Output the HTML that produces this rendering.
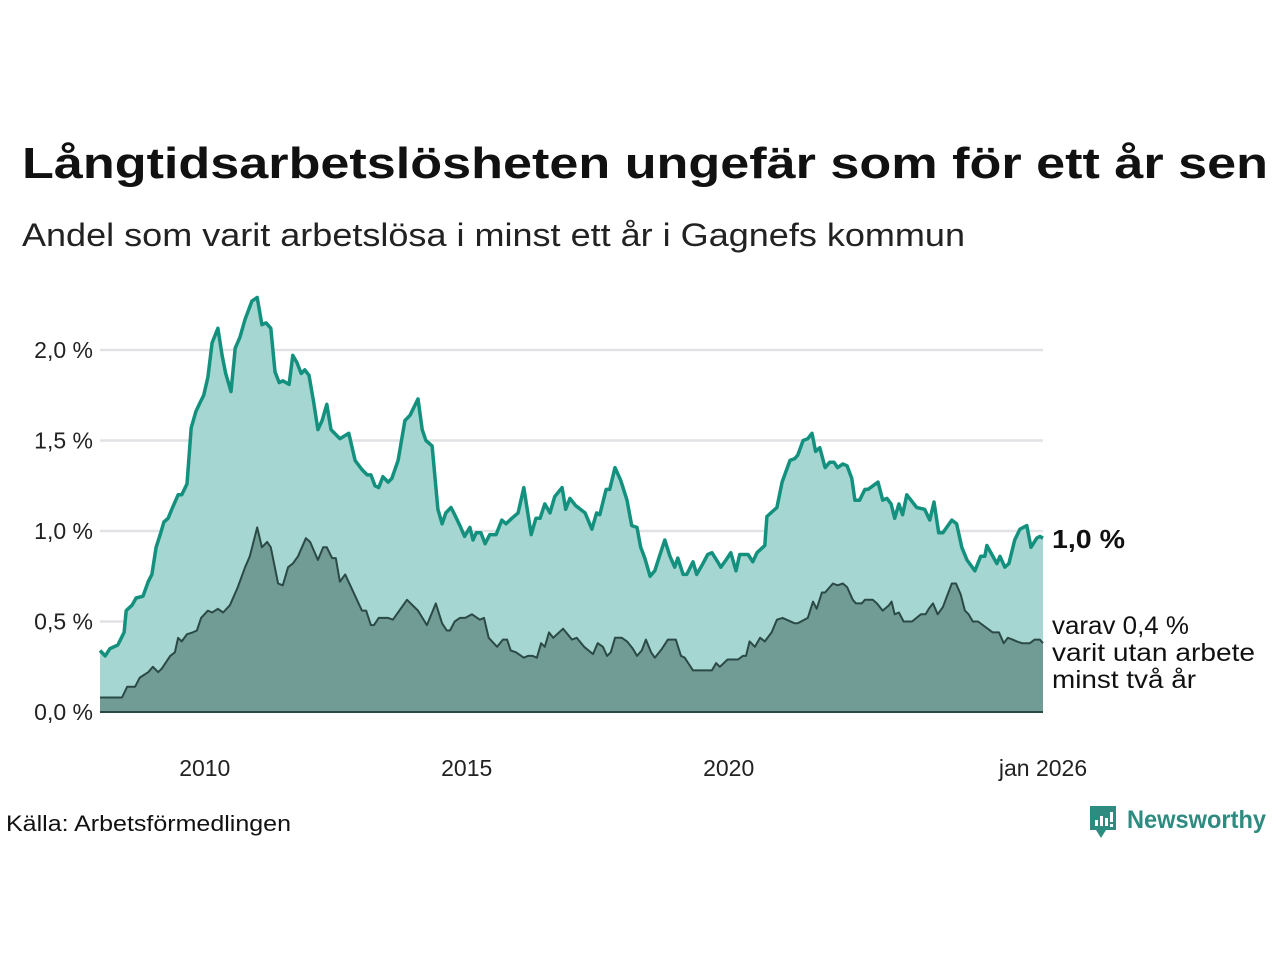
<!DOCTYPE html>
<html><head><meta charset="utf-8"><style>
html,body{margin:0;padding:0;background:#fff;}
svg{display:block;font-family:"Liberation Sans",sans-serif;}
</style></head><body>
<svg id="chart" width="1280" height="960" viewBox="0 0 1280 960" xmlns="http://www.w3.org/2000/svg">
<text x="22" y="178" font-size="44" font-weight="bold" fill="#111" textLength="1246" lengthAdjust="spacingAndGlyphs">Långtidsarbetslösheten ungefär som för ett år sen</text>
<text x="22" y="246" font-size="32" fill="#222" textLength="943" lengthAdjust="spacingAndGlyphs">Andel som varit arbetslösa i minst ett år i Gagnefs kommun</text>
<g id="grid"></g>
<g id="areas"></g>
<g id="yticks"></g>
<g id="xticks"></g>
<text x="1052" y="548" font-size="26" font-weight="bold" fill="#111" textLength="73" lengthAdjust="spacingAndGlyphs">1,0 %</text>
<text font-size="25" fill="#111">
<tspan x="1052" y="634" textLength="137" lengthAdjust="spacingAndGlyphs">varav 0,4 %</tspan>
<tspan x="1052" y="661" textLength="203" lengthAdjust="spacingAndGlyphs">varit utan arbete</tspan>
<tspan x="1052" y="688" textLength="144" lengthAdjust="spacingAndGlyphs">minst två år</tspan>
</text>
<text x="6" y="831" font-size="22" fill="#111" textLength="285" lengthAdjust="spacingAndGlyphs">Källa: Arbetsförmedlingen</text>
<g>
<path d="M1090 806 h26 v24 h-10 l-5 8 l-5 -8 h-6 z" fill="#2e8b80"/>
<rect x="1095" y="820" width="3" height="6" fill="#fff"/><rect x="1100" y="816" width="3" height="10" fill="#fff"/><rect x="1105" y="818" width="3" height="8" fill="#fff"/><rect x="1110" y="812" width="3" height="10" fill="#fff"/><rect x="1110" y="824" width="3" height="3" fill="#fff"/>
<text x="1127" y="828" font-size="25" font-weight="bold" fill="#2e8b80" textLength="139" lengthAdjust="spacingAndGlyphs">Newsworthy</text>
</g>
</svg>
<script>
const yearsTotal=[2008.00,2008.10,2008.19,2008.34,2008.46,2008.50,2008.61,2008.69,2008.82,2008.92,2008.99,2009.07,2009.15,2009.22,2009.30,2009.37,2009.49,2009.56,2009.66,2009.74,2009.83,2009.91,2009.98,2010.06,2010.14,2010.25,2010.33,2010.40,2010.50,2010.58,2010.67,2010.77,2010.90,2011.00,2011.09,2011.17,2011.26,2011.34,2011.42,2011.49,2011.61,2011.68,2011.76,2011.84,2011.91,2011.99,2012.08,2012.16,2012.24,2012.33,2012.41,2012.58,2012.75,2012.87,2013.00,2013.10,2013.17,2013.25,2013.32,2013.40,2013.50,2013.57,2013.69,2013.82,2013.92,2014.07,2014.15,2014.22,2014.34,2014.45,2014.53,2014.60,2014.70,2014.77,2014.87,2014.96,2015.06,2015.12,2015.18,2015.27,2015.35,2015.44,2015.56,2015.67,2015.75,2015.86,2015.98,2016.09,2016.23,2016.32,2016.40,2016.49,2016.59,2016.68,2016.82,2016.89,2016.97,2017.08,2017.26,2017.39,2017.48,2017.54,2017.66,2017.73,2017.83,2017.94,2018.06,2018.15,2018.25,2018.32,2018.40,2018.50,2018.59,2018.69,2018.78,2018.88,2018.97,2019.03,2019.13,2019.20,2019.32,2019.39,2019.49,2019.60,2019.68,2019.79,2019.85,2019.95,2020.04,2020.14,2020.21,2020.37,2020.46,2020.54,2020.69,2020.73,2020.92,2021.02,2021.17,2021.26,2021.32,2021.42,2021.51,2021.59,2021.66,2021.74,2021.84,2021.93,2022.01,2022.08,2022.18,2022.26,2022.35,2022.41,2022.50,2022.60,2022.66,2022.85,2022.94,2023.02,2023.10,2023.17,2023.25,2023.32,2023.40,2023.59,2023.74,2023.84,2023.92,2024.01,2024.09,2024.26,2024.35,2024.45,2024.55,2024.70,2024.81,2024.89,2024.93,2025.12,2025.18,2025.27,2025.35,2025.46,2025.56,2025.69,2025.77,2025.88,2025.94,2026.00];
const valuesTotal=[0.34,0.31,0.35,0.37,0.44,0.56,0.59,0.63,0.64,0.72,0.76,0.91,0.98,1.05,1.07,1.12,1.20,1.20,1.26,1.57,1.66,1.71,1.75,1.85,2.04,2.12,1.97,1.87,1.77,2.01,2.07,2.17,2.27,2.29,2.14,2.15,2.12,1.88,1.82,1.83,1.81,1.97,1.93,1.87,1.89,1.86,1.71,1.56,1.61,1.70,1.56,1.51,1.54,1.39,1.34,1.31,1.31,1.25,1.24,1.30,1.27,1.29,1.39,1.61,1.64,1.73,1.56,1.50,1.47,1.12,1.04,1.10,1.13,1.09,1.03,0.97,1.02,0.95,0.99,0.99,0.93,0.98,0.98,1.06,1.04,1.07,1.10,1.24,0.98,1.07,1.07,1.15,1.10,1.19,1.24,1.12,1.18,1.14,1.10,1.01,1.10,1.09,1.23,1.23,1.35,1.28,1.17,1.03,1.02,0.91,0.85,0.75,0.78,0.87,0.95,0.86,0.80,0.85,0.76,0.76,0.83,0.76,0.81,0.87,0.88,0.83,0.80,0.84,0.88,0.78,0.87,0.87,0.83,0.88,0.92,1.08,1.13,1.27,1.39,1.40,1.42,1.50,1.51,1.54,1.44,1.46,1.35,1.38,1.38,1.35,1.37,1.36,1.29,1.17,1.17,1.23,1.23,1.27,1.17,1.18,1.15,1.07,1.15,1.09,1.20,1.13,1.12,1.06,1.16,0.99,0.99,1.06,1.04,0.91,0.84,0.78,0.86,0.86,0.92,0.82,0.86,0.80,0.82,0.95,1.01,1.03,0.91,0.96,0.97,0.96];
const yearsTwo=[2008.00,2008.42,2008.52,2008.67,2008.76,2008.92,2009.01,2009.11,2009.18,2009.34,2009.43,2009.49,2009.56,2009.66,2009.77,2009.85,2009.93,2010.06,2010.14,2010.25,2010.35,2010.48,2010.63,2010.77,2010.86,2011.00,2011.09,2011.19,2011.26,2011.40,2011.49,2011.59,2011.68,2011.78,2011.93,2012.01,2012.16,2012.26,2012.33,2012.43,2012.50,2012.58,2012.68,2013.00,2013.08,2013.17,2013.23,2013.32,2013.50,2013.59,2013.86,2014.07,2014.24,2014.34,2014.41,2014.53,2014.62,2014.68,2014.77,2014.87,2014.97,2015.10,2015.25,2015.33,2015.42,2015.58,2015.69,2015.77,2015.84,2015.94,2016.09,2016.17,2016.26,2016.34,2016.42,2016.49,2016.57,2016.65,2016.84,2017.01,2017.10,2017.24,2017.41,2017.50,2017.60,2017.68,2017.75,2017.83,2017.96,2018.06,2018.17,2018.25,2018.34,2018.42,2018.52,2018.59,2018.73,2018.84,2018.99,2019.09,2019.16,2019.32,2019.68,2019.76,2019.83,2019.98,2020.18,2020.27,2020.33,2020.40,2020.50,2020.60,2020.69,2020.82,2020.92,2021.03,2021.26,2021.32,2021.51,2021.61,2021.68,2021.78,2021.84,2021.99,2022.08,2022.18,2022.26,2022.37,2022.43,2022.54,2022.60,2022.75,2022.83,2022.94,2023.06,2023.11,2023.17,2023.25,2023.34,2023.50,2023.67,2023.76,2023.82,2023.90,2023.99,2024.09,2024.26,2024.34,2024.43,2024.51,2024.58,2024.66,2024.76,2025.04,2025.16,2025.25,2025.33,2025.42,2025.50,2025.60,2025.75,2025.84,2025.94,2026.00];
const valuesTwo=[0.08,0.08,0.14,0.14,0.19,0.22,0.25,0.22,0.24,0.31,0.33,0.41,0.39,0.43,0.44,0.45,0.52,0.56,0.55,0.57,0.55,0.59,0.69,0.80,0.86,1.02,0.91,0.94,0.91,0.71,0.70,0.80,0.82,0.86,0.96,0.94,0.84,0.91,0.91,0.85,0.85,0.72,0.76,0.56,0.56,0.48,0.48,0.52,0.52,0.51,0.62,0.56,0.48,0.55,0.60,0.49,0.45,0.45,0.50,0.52,0.52,0.54,0.51,0.52,0.41,0.36,0.40,0.40,0.34,0.33,0.30,0.31,0.31,0.30,0.38,0.36,0.44,0.41,0.46,0.40,0.41,0.36,0.32,0.38,0.36,0.31,0.33,0.41,0.41,0.39,0.35,0.31,0.34,0.40,0.33,0.30,0.35,0.40,0.40,0.31,0.30,0.23,0.23,0.27,0.25,0.29,0.29,0.31,0.31,0.39,0.36,0.41,0.39,0.44,0.51,0.52,0.49,0.49,0.52,0.61,0.57,0.66,0.66,0.71,0.70,0.71,0.69,0.62,0.60,0.60,0.62,0.62,0.60,0.56,0.59,0.61,0.54,0.55,0.50,0.50,0.54,0.54,0.57,0.60,0.54,0.58,0.71,0.71,0.65,0.56,0.54,0.50,0.50,0.44,0.44,0.38,0.41,0.40,0.39,0.38,0.38,0.40,0.40,0.38];
const yTickValues=[0,0.5,1.0,1.5,2.0];
const yTickLabels=["0,0 %","0,5 %","1,0 %","1,5 %","2,0 %"];
const xTickValues=[2010,2015,2020,2026];
const xTickLabels=["2010","2015","2020","jan 2026"];

const NS="http://www.w3.org/2000/svg";
const X0=100,X1=1043,Y0=712,PX_PER_UNIT=181;
function xScale(yr){return X0+(yr-2008)/(2026-2008)*(X1-X0);}
function yScale(v){return Y0-v*PX_PER_UNIT;}
function mk(tag,attrs,parent){const e=document.createElementNS(NS,tag);for(const k in attrs)e.setAttribute(k,attrs[k]);parent.appendChild(e);return e;}

const grid=document.getElementById('grid');
const yt=document.getElementById('yticks');
yTickValues.forEach((v,i)=>{
  if(v>0){const l=mk('line',{x1:X0,x2:X1,y1:yScale(v),y2:yScale(v),stroke:'#e2e2e6','stroke-width':2.5},grid);
    
    }
  const t=mk('text',{x:93,y:yScale(v)+8,'text-anchor':'end','font-size':23,fill:'#222'},yt);
  t.textContent=yTickLabels[i];
  
  
});
const xt=document.getElementById('xticks');
xTickValues.forEach((v,i)=>{
  const t=mk('text',{x:xScale(v),y:776,'text-anchor':'middle','font-size':23,fill:'#222'},xt);
  t.textContent=xTickLabels[i];
  
  
});

const areas=document.getElementById('areas');
function pts(ys,vs){return ys.map((y,i)=>xScale(y).toFixed(1)+','+yScale(vs[i]).toFixed(1));}
function areaPath(ys,vs){const p=pts(ys,vs);return 'M'+xScale(ys[0])+','+Y0+' L'+p.join(' L')+' L'+xScale(ys[ys.length-1])+','+Y0+' Z';}
const a1=mk('path',{d:areaPath(yearsTotal,valuesTotal),fill:'#a5d6d1'},areas);


const a2=mk('path',{d:areaPath(yearsTwo,valuesTwo),fill:'#719c96'},areas);


const l2=mk('polyline',{points:pts(yearsTwo,valuesTwo).join(' '),fill:'none',stroke:'#2b4a46','stroke-width':2,'stroke-linejoin':'round'},areas);


const l1=mk('polyline',{points:pts(yearsTotal,valuesTotal).join(' '),fill:'none',stroke:'#14917e','stroke-width':3.5,'stroke-linejoin':'round'},areas);


const base=mk('line',{x1:X0,x2:X1,y1:Y0,y2:Y0,stroke:'#2b4a46','stroke-width':2},areas);


</script>
</body></html>
